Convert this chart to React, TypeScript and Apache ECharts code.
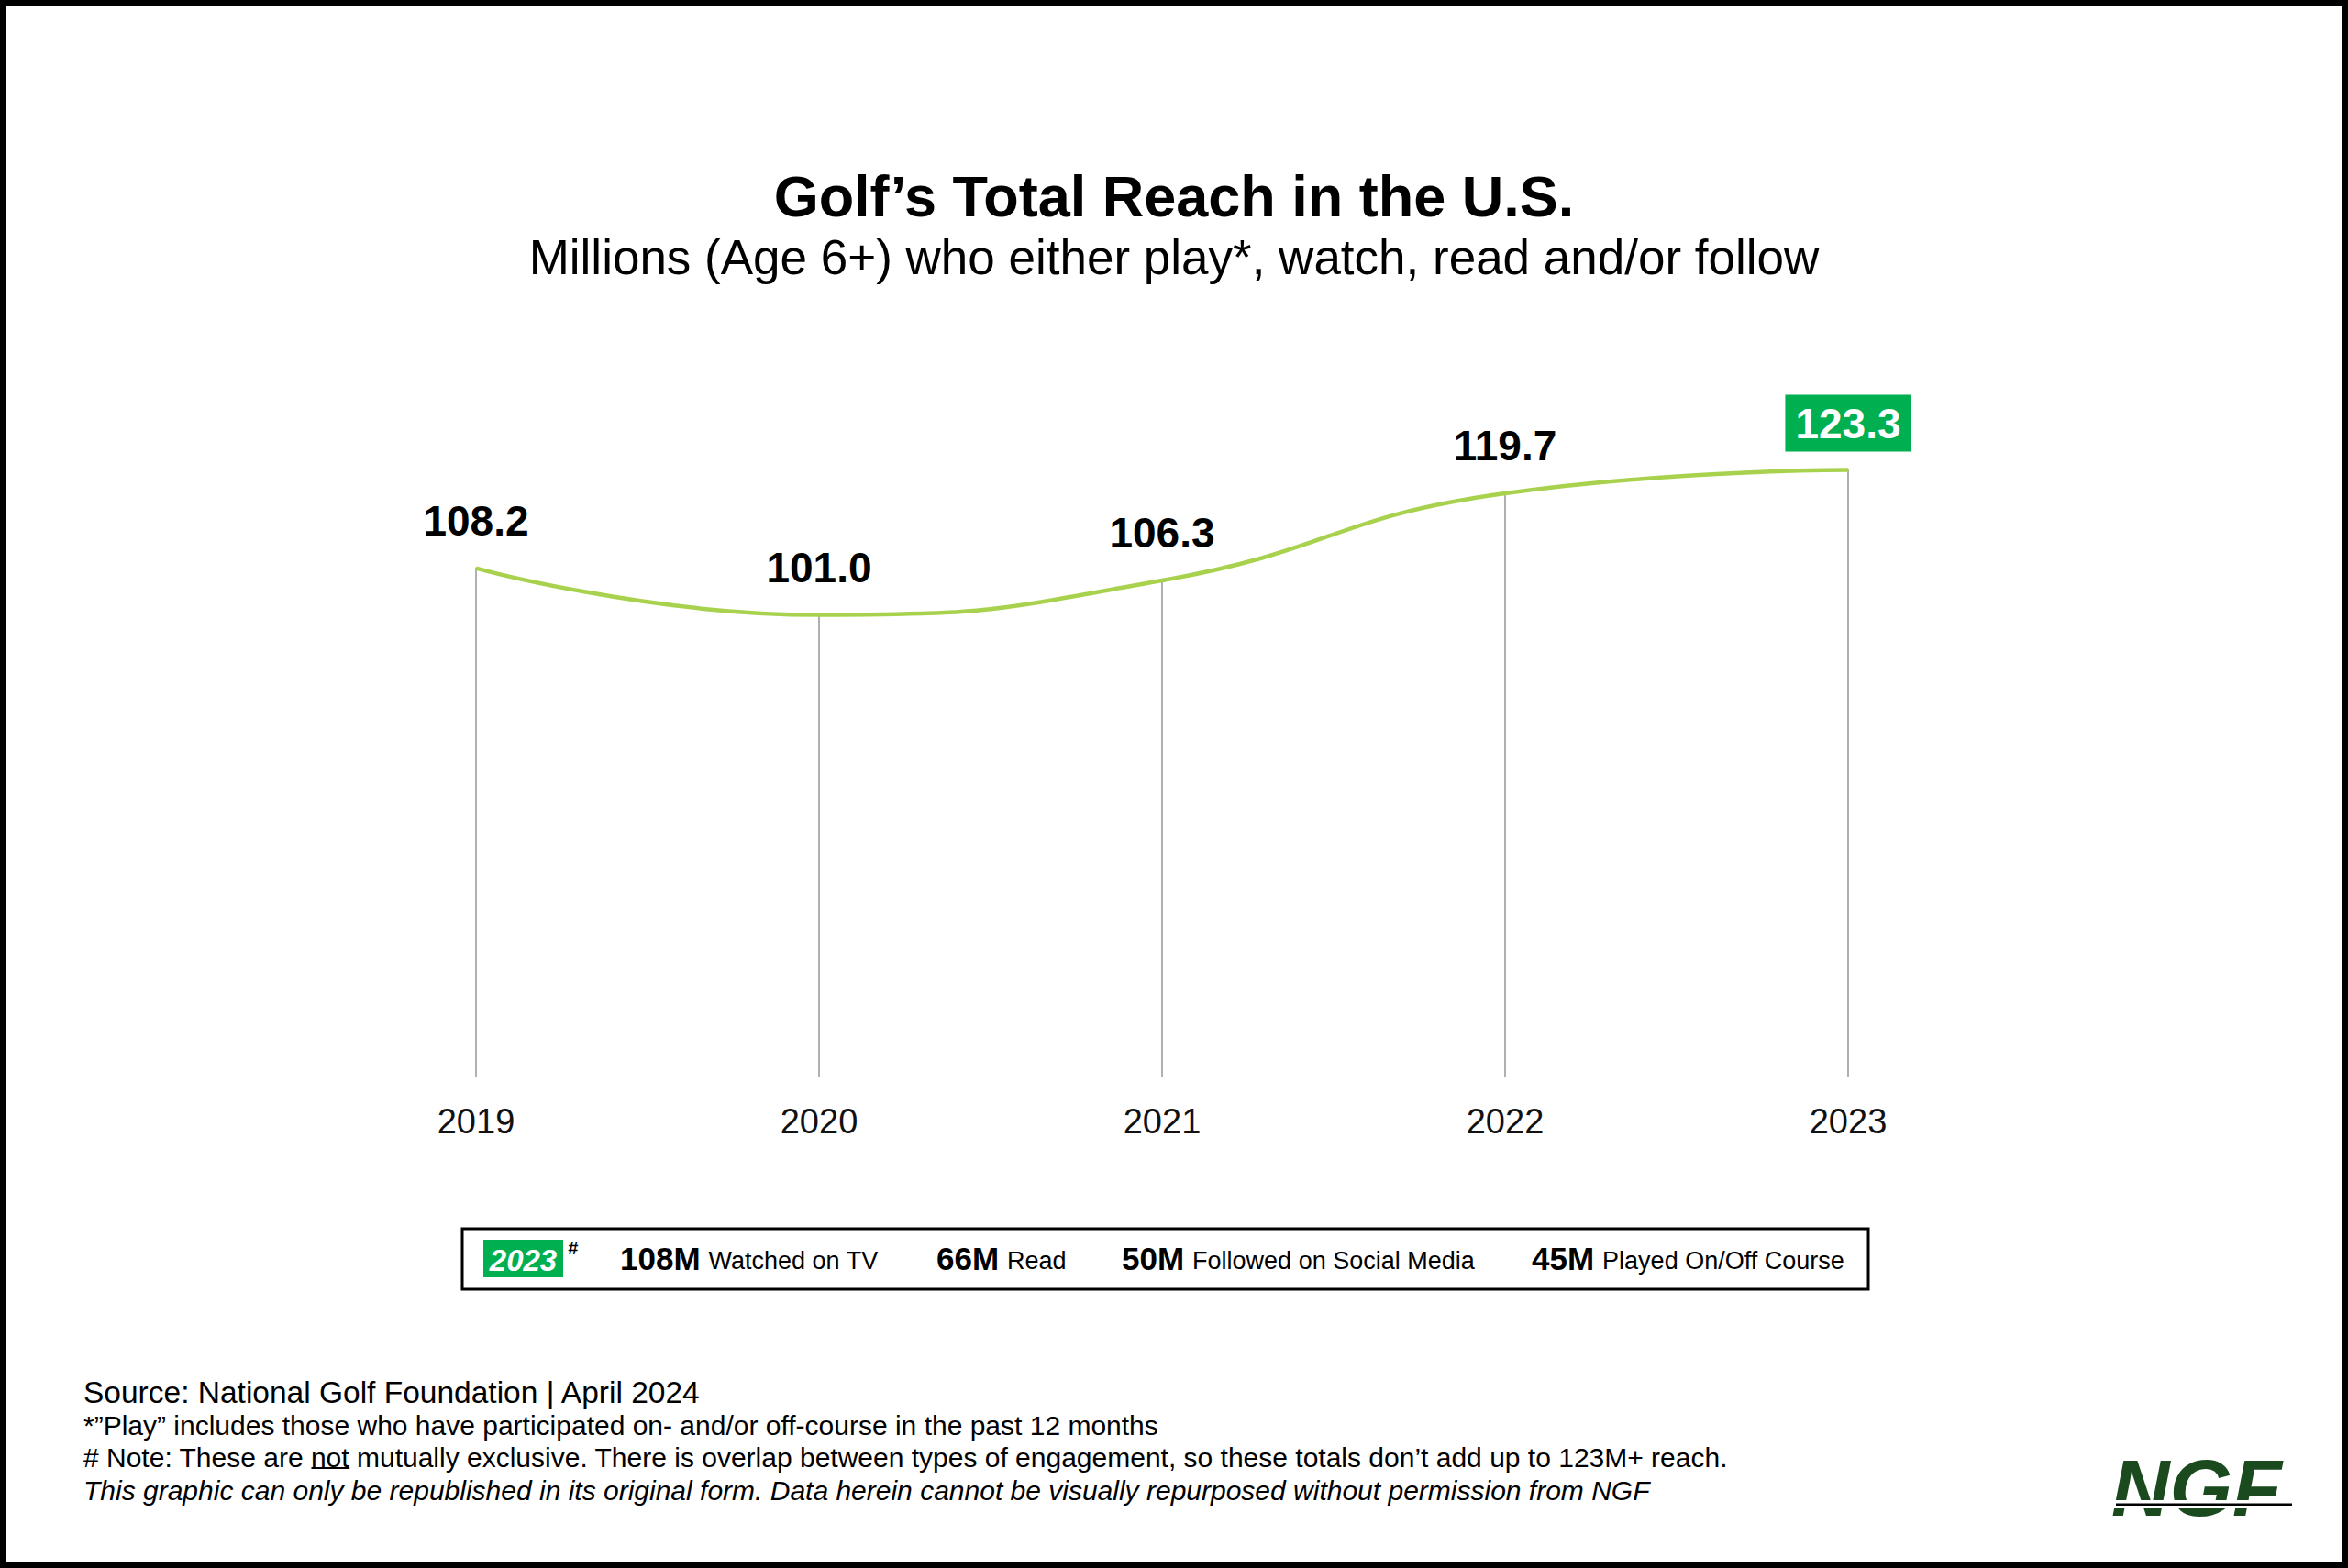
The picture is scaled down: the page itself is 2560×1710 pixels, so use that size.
import React, { useEffect, useRef } from 'react';
import * as echarts from 'echarts';

// ---------- data ----------
const years = ['2019', '2020', '2021', '2022', '2023'];
const reach = [108.2, 101.0, 106.3, 119.7, 123.3];
const highlightYear = '2023';
const engagementValues = ['108M', '66M', '50M', '45M'];
const engagementLabels = ['Watched on TV', 'Read', 'Followed on Social Media', 'Played On/Off Course'];
const titleText = 'Golf\u2019s Total Reach in the U.S.';
const subtitleText = 'Millions (Age 6+) who either play*, watch, read and/or follow';
const sourceText = 'Source: National Golf Foundation | April 2024';
const playNote = '*\u201dPlay\u201d includes those who have participated on- and/or off-course in the past 12 months';
const notePrefix = '# Note: These are ';
const noteEmph = 'not';
const noteRest = ' mutually exclusive. There is overlap between types of engagement, so these totals don\u2019t add up to 123M+ reach.';
const rightsNote = 'This graphic can only be republished in its original form. Data herein cannot be visually repurposed without permission from NGF';

const FONT = '"Liberation Sans", Arial, Helvetica, sans-serif';
const LINE_GREEN = '#a8d24e';
const BOX_GREEN = '#00b050';

function txt(x: number, y: number, text: string, size: number, opts: any = {}) {
  const align = opts.align || 'left';
  return {
    type: 'text',
    x,
    y,
    z: 10,
    style: {
      text,
      fontSize: size,
      fontFamily: FONT,
      fontWeight: opts.weight || 'normal',
      fontStyle: opts.style || 'normal',
      fill: opts.fill || '#000',
      textAlign: align,
      align,
      textVerticalAlign: 'middle',
      verticalAlign: 'middle',
    },
  };
}

export default function App() {
  const ref = useRef<HTMLDivElement>(null);

  useEffect(() => {
    if (!ref.current) return;
    const chart = echarts.init(ref.current, null, { renderer: 'svg' });
    const ctx = document.createElement('canvas').getContext('2d')!;
    const measure = (t: string, size: number, weight = 'normal') => {
      ctx.font = `${weight} ${size}px "Liberation Sans", Arial, sans-serif`;
      return ctx.measureText(t).width;
    };

    const graphics: any[] = [];
    // outer frame
    graphics.push({
      type: 'rect',
      shape: { x: 3.5, y: 3.5, width: 2553, height: 1703 },
      style: { fill: 'none', stroke: '#000', lineWidth: 7 },
      z: 20,
    });
    // titles
    graphics.push(txt(1280, 214, titleText, 63, { align: 'center', weight: 'bold' }));
    graphics.push(txt(1280, 280, subtitleText, 53, { align: 'center' }));

    // legend box
    graphics.push({
      type: 'rect',
      shape: { x: 504, y: 1340, width: 1533, height: 66 },
      style: { fill: 'none', stroke: '#000', lineWidth: 3 },
      z: 10,
    });
    graphics.push({
      type: 'rect',
      shape: { x: 527, y: 1352, width: 87, height: 41 },
      style: { fill: BOX_GREEN },
      z: 10,
    });
    graphics.push(txt(570.5, 1374, highlightYear, 33, { align: 'center', weight: 'bold', style: 'italic', fill: '#fff' }));
    graphics.push(txt(619, 1361, '#', 20, { weight: 'bold', style: 'italic' }));
    const numX = [676, 1021, 1223, 1670];
    engagementValues.forEach((v, i) => {
      graphics.push(txt(numX[i], 1372, v, 35, { weight: 'bold' }));
      const w = measure(v, 35, 'bold');
      graphics.push(txt(numX[i] + w + 9, 1375, engagementLabels[i], 27));
    });

    // footer
    const fx = 91;
    const fs = 30;
    graphics.push(txt(fx, 1518, sourceText, 33.5));
    graphics.push(txt(fx, 1554, playNote, fs));
    graphics.push(txt(fx, 1589, notePrefix + noteEmph + noteRest, fs));
    const pw = measure(notePrefix, fs);
    const nw = measure(noteEmph, fs);
    graphics.push({
      type: 'rect',
      shape: { x: fx + pw, y: 1600, width: nw, height: 2 },
      style: { fill: '#000' },
      z: 10,
    });
    graphics.push(txt(fx, 1625, rightsNote, fs, { style: 'italic' }));

    // NGF logo
    graphics.push(txt(2302, 1622, 'NGF', 88, { weight: 'bold', style: 'italic', fill: '#1b4a1e' }));
    graphics.push({
      type: 'rect',
      shape: { x: 2298, y: 1636, width: 210, height: 9 },
      style: { fill: '#fff' },
      z: 11,
    });
    graphics.push({
      type: 'rect',
      shape: { x: 2307, y: 1639.5, width: 192, height: 2.5 },
      style: { fill: '#000' },
      z: 12,
    });

    const lineData = reach.map((v, i) => {
      if (years[i] === highlightYear) {
        return {
          value: v,
          label: {
            color: '#fff',
            backgroundColor: BOX_GREEN,
            padding: [8, 11, 8, 11],
            distance: 19,
          },
        };
      }
      return v;
    });

    const option: any = {
      animation: false,
      backgroundColor: '#fff',
      grid: { left: 332, width: 1870, top: 465, height: 709 },
      xAxis: {
        type: 'category',
        data: years,
        boundaryGap: true,
        axisLine: { show: false },
        axisTick: { show: false },
        axisLabel: { fontSize: 38, color: '#111', fontFamily: FONT, margin: 30 },
        splitLine: { show: false },
      },
      yAxis: {
        type: 'value',
        min: 30,
        max: 130,
        show: false,
        splitLine: { show: false },
      },
      series: [
        {
          type: 'bar',
          data: reach,
          barWidth: 2,
          itemStyle: { color: '#b0b0b0' },
          z: 1,
          silent: true,
        },
        {
          type: 'line',
          data: lineData,
          smooth: 0.5,
          symbol: 'circle',
          symbolSize: 2,
          itemStyle: { color: LINE_GREEN },
          lineStyle: { color: LINE_GREEN, width: 4.5 },
          z: 3,
          label: {
            show: true,
            position: 'top',
            distance: 28,
            fontSize: 46,
            fontWeight: 'bold',
            fontFamily: FONT,
            color: '#000',
            formatter: (p: any) => Number(p.value).toFixed(1),
          },
        },
      ],
      graphic: { elements: graphics },
    };
    chart.setOption(option);
    return () => chart.dispose();
  }, []);

  return (
    <div
      ref={ref}
      style={{ position: 'absolute', left: 0, top: 0, width: 2560, height: 1710 }}
    />
  );
}
